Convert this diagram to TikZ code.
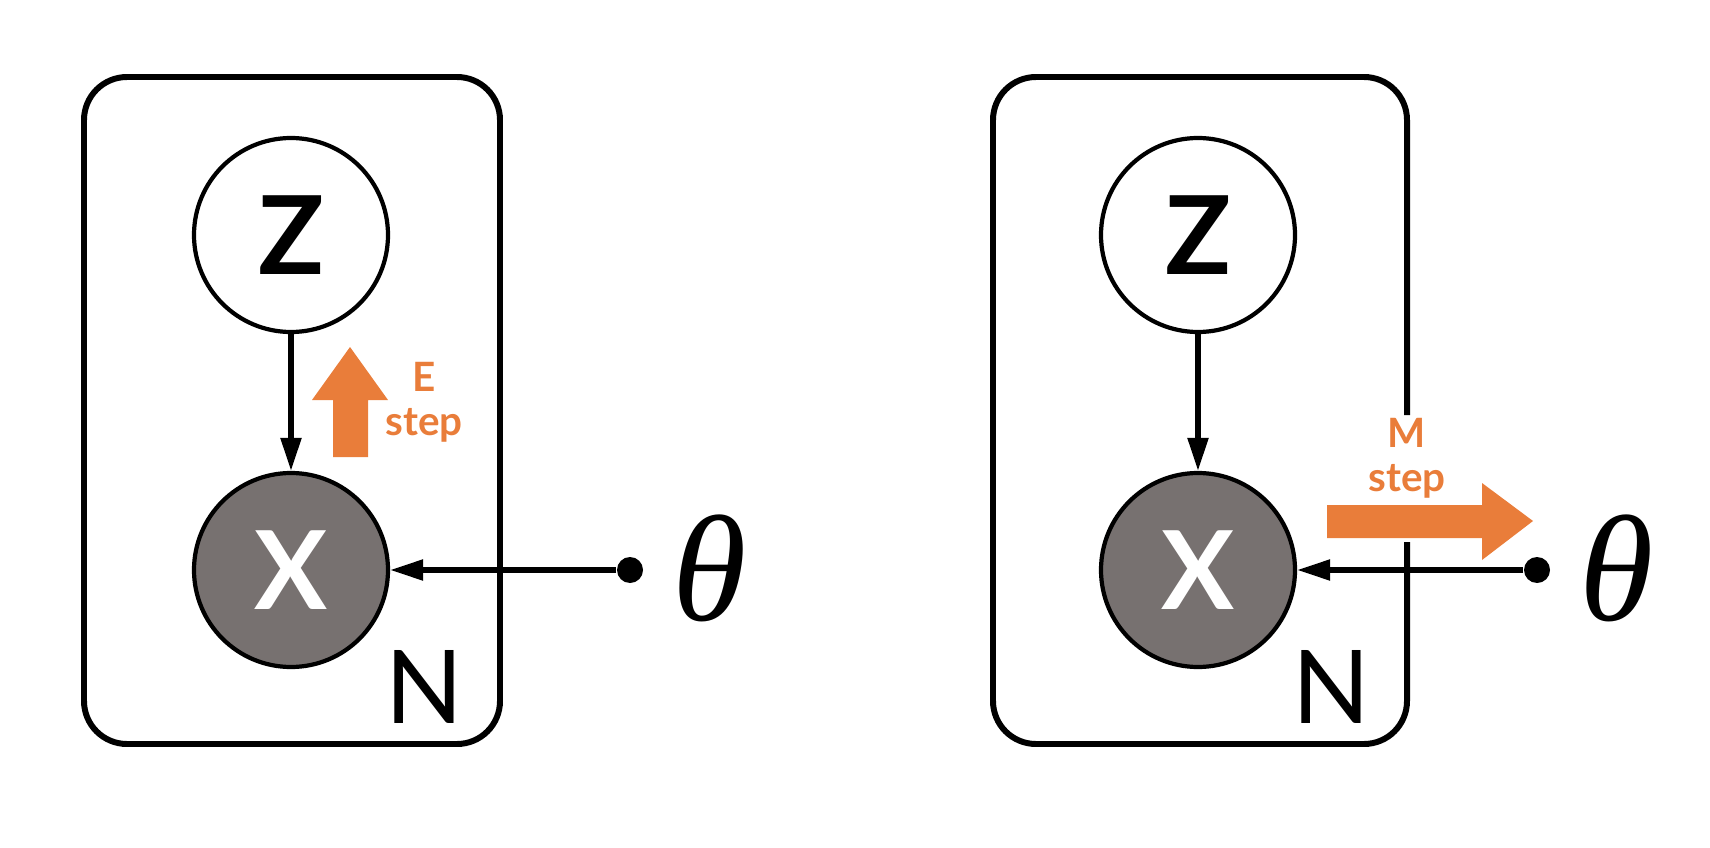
\documentclass[tikz,border=0pt]{standalone}
\usepackage{fontspec}
\setsansfont{Lato}
\newfontfamily\greekfont{Liberation Serif}
\usetikzlibrary{arrows.meta}
\definecolor{steporange}{RGB}{233,125,58}
\definecolor{obsgray}{RGB}{119,113,112}
\tikzstyle{latent}=[circle, draw, line width=1.2pt, minimum size=19.4mm, inner sep=0pt, font=\sffamily\bfseries\fontsize{31}{31}\selectfont]
\tikzstyle{obs}=[latent, fill=obsgray, text=white]
\tikzstyle{dot}=[circle, fill, inner sep=0pt, minimum size=2.6mm]
\tikzstyle{plate}=[line width=1.7pt, rounded corners=4.3mm]
\tikzstyle{platelabel}=[font=\sffamily\fontsize{29}{29}\selectfont]
\tikzstyle{param}=[font=\greekfont\itshape\fontsize{43}{43}\selectfont]
\tikzstyle{steplabel}=[text=steporange, font=\sffamily\bfseries\fontsize{11.5}{12.5}\selectfont, align=center]
\newcommand{\latent}{\node[latent]}
\newcommand{\obs}{\node[obs]}

\begin{document}
\begin{tikzpicture}[x=0.1mm, y=-0.1mm
  ,every edge/.style={draw, line width=1.5pt, -{Triangle[length=3.3mm,width=2mm]}}
]
\useasboundingbox (0,0) rectangle (1710,848);
% E step
\draw[plate] (84,77) rectangle (500,744);
\latent (z1) at (291,235) {Z};
\obs (x1) at (291,570) {X};
\node[dot] (d1) at (630,570) {};
\node[param] (t1) at (710,568) {θ};
\node[platelabel] (n1) at (424,687) {N};
\fill[steporange] (333,457) -- (368,457) -- (368,400) -- (388,400) -- (350,347) -- (312,400) -- (333,400) -- cycle;
\node[steplabel] (e1) at (424,402) {E\\step};
% M step
\draw[plate] (1407,415) -- (1407,77) -- (993,77) -- (993,744) -- (1407,744) -- (1407,542);
\latent (z2) at (1198,235) {Z};
\obs (x2) at (1198,570) {X};
\node[dot] (d2) at (1537,570) {};
\node[param] (t2) at (1617,568) {θ};
\node[platelabel] (n2) at (1331,687) {N};
\fill[steporange] (1327,505) -- (1482,505) -- (1482,483) -- (1533,521) -- (1482,560) -- (1482,538) -- (1327,538) -- cycle;
\node[steplabel] (m1) at (1407,458) {M\\step};
\path
(z1) edge (x1)
(d1) edge (x1)
(z2) edge (x2)
(d2) edge (x2)
;
\end{tikzpicture}
\end{document}
